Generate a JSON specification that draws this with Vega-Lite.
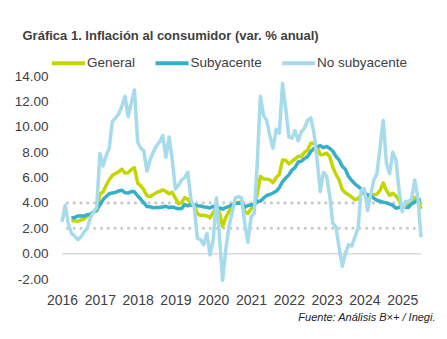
{
  "$schema": "https://vega.github.io/schema/vega-lite/v6.json",
  "width": 359,
  "height": 203,
  "autosize": {"type": "none"},
  "padding": {"left": 62, "top": 76, "right": 26, "bottom": 60},
  "background": "white",
  "config": {"view": {"stroke": null}, "font": "Liberation Sans"},
  "title": {
    "text": "Gráfica 1. Inflación al consumidor (var. % anual)",
    "anchor": "start",
    "frame": "group",
    "dx": -39.5,
    "dy": 10,
    "fontSize": 13,
    "fontWeight": "bold",
    "color": "#3f3f3f",
    "baseline": "alphabetic",
    "offset": 2
  },
  "layer": [
    {
      "data": {"values": [{"v": 0}]},
      "mark": {"type": "rule", "color": "#d9d9d9", "strokeWidth": 1.5},
      "encoding": {
        "y": {"field": "v", "type": "quantitative", "scale": {"domain": [-2, 14], "nice": false, "zero": false},
          "axis": {"values": [-2, 0, 2, 4, 6, 8, 10, 12, 14], "labelExpr": "datum.value < 0 ? '-' + format(-datum.value, '.2f') : format(datum.value, '.2f')", "labelFontSize": 13.5, "labelColor": "#404040", "ticks": false, "domain": false, "grid": false, "labelPadding": 14, "title": null}}
      }
    },
    {
      "data": {"values": [{"v": 2}, {"v": 4}]},
      "mark": {"type": "rule", "color": "#c9c9c9", "strokeWidth": 3.2, "strokeDash": [0, 6.8], "strokeCap": "round"},
      "encoding": {
        "y": {"field": "v", "type": "quantitative", "scale": {"domain": [-2, 14], "nice": false, "zero": false},
          "axis": {"values": [-2, 0, 2, 4, 6, 8, 10, 12, 14], "labelExpr": "datum.value < 0 ? '-' + format(-datum.value, '.2f') : format(datum.value, '.2f')", "labelFontSize": 13.5, "labelColor": "#404040", "ticks": false, "domain": false, "grid": false, "labelPadding": 14, "title": null}}
      }
    },
    {
      "data": {"values": [
        {"f":"2016-01-01","No subyacente":2.5},
        {"f":"2016-02-01","No subyacente":3.8},
        {"f":"2016-03-01","No subyacente":2.4},
        {"f":"2016-04-01","General":2.54,"Subyacente":2.80,"No subyacente":1.6},
        {"f":"2016-05-01","General":2.60,"Subyacente":2.84,"No subyacente":1.4},
        {"f":"2016-06-01","General":2.54,"Subyacente":2.97,"No subyacente":1.1},
        {"f":"2016-07-01","General":2.65,"Subyacente":2.97,"No subyacente":1.3},
        {"f":"2016-08-01","General":2.73,"Subyacente":2.96,"No subyacente":1.7},
        {"f":"2016-09-01","General":2.97,"Subyacente":3.07,"No subyacente":2.0},
        {"f":"2016-10-01","General":3.06,"Subyacente":3.10,"No subyacente":2.8},
        {"f":"2016-11-01","General":3.31,"Subyacente":3.29,"No subyacente":3.3},
        {"f":"2016-12-01","General":3.36,"Subyacente":3.44,"No subyacente":3.6},
        {"f":"2017-01-01","General":4.72,"Subyacente":3.85,"No subyacente":7.9},
        {"f":"2017-02-01","General":4.86,"Subyacente":4.26,"No subyacente":6.9},
        {"f":"2017-03-01","General":5.35,"Subyacente":4.48,"No subyacente":7.7},
        {"f":"2017-04-01","General":5.82,"Subyacente":4.72,"No subyacente":8.3},
        {"f":"2017-05-01","General":6.16,"Subyacente":4.78,"No subyacente":10.4},
        {"f":"2017-06-01","General":6.31,"Subyacente":4.83,"No subyacente":10.7},
        {"f":"2017-07-01","General":6.44,"Subyacente":4.94,"No subyacente":11.0},
        {"f":"2017-08-01","General":6.66,"Subyacente":5.00,"No subyacente":11.6},
        {"f":"2017-09-01","General":6.35,"Subyacente":4.80,"No subyacente":12.4},
        {"f":"2017-10-01","General":6.37,"Subyacente":4.77,"No subyacente":10.8},
        {"f":"2017-11-01","General":6.63,"Subyacente":4.90,"No subyacente":11.9},
        {"f":"2017-12-01","General":6.77,"Subyacente":4.87,"No subyacente":12.9},
        {"f":"2018-01-01","General":5.55,"Subyacente":4.56,"No subyacente":8.8},
        {"f":"2018-02-01","General":5.34,"Subyacente":4.27,"No subyacente":8.3},
        {"f":"2018-03-01","General":5.04,"Subyacente":4.02,"No subyacente":8.1},
        {"f":"2018-04-01","General":4.55,"Subyacente":3.71,"No subyacente":6.5},
        {"f":"2018-05-01","General":4.51,"Subyacente":3.69,"No subyacente":7.4},
        {"f":"2018-06-01","General":4.65,"Subyacente":3.62,"No subyacente":8.0},
        {"f":"2018-07-01","General":4.81,"Subyacente":3.63,"No subyacente":8.5},
        {"f":"2018-08-01","General":4.90,"Subyacente":3.63,"No subyacente":8.8},
        {"f":"2018-09-01","General":5.02,"Subyacente":3.67,"No subyacente":9.3},
        {"f":"2018-10-01","General":4.90,"Subyacente":3.73,"No subyacente":7.6},
        {"f":"2018-11-01","General":4.72,"Subyacente":3.63,"No subyacente":9.2},
        {"f":"2018-12-01","General":4.83,"Subyacente":3.68,"No subyacente":7.4},
        {"f":"2019-01-01","General":4.37,"Subyacente":3.60,"No subyacente":5.1},
        {"f":"2019-02-01","General":3.94,"Subyacente":3.54,"No subyacente":5.4},
        {"f":"2019-03-01","General":4.00,"Subyacente":3.55,"No subyacente":5.8},
        {"f":"2019-04-01","General":4.41,"Subyacente":3.87,"No subyacente":6.0},
        {"f":"2019-05-01","General":4.28,"Subyacente":3.77,"No subyacente":6.4},
        {"f":"2019-06-01","General":3.95,"Subyacente":3.85,"No subyacente":4.2},
        {"f":"2019-07-01","General":3.78,"Subyacente":3.82,"No subyacente":3.7},
        {"f":"2019-08-01","General":3.16,"Subyacente":3.78,"No subyacente":1.2},
        {"f":"2019-09-01","General":3.00,"Subyacente":3.75,"No subyacente":1.1},
        {"f":"2019-10-01","General":3.02,"Subyacente":3.68,"No subyacente":0.7},
        {"f":"2019-11-01","General":2.97,"Subyacente":3.65,"No subyacente":1.6},
        {"f":"2019-12-01","General":2.83,"Subyacente":3.59,"No subyacente":-0.1},
        {"f":"2020-01-01","General":3.24,"Subyacente":3.73,"No subyacente":1.1},
        {"f":"2020-02-01","General":3.70,"Subyacente":3.66,"No subyacente":4.4},
        {"f":"2020-03-01","General":3.25,"Subyacente":3.60,"No subyacente":1.4},
        {"f":"2020-04-01","General":2.15,"Subyacente":3.50,"No subyacente":-2.1},
        {"f":"2020-05-01","General":2.84,"Subyacente":3.64,"No subyacente":0.3},
        {"f":"2020-06-01","General":3.33,"Subyacente":3.71,"No subyacente":2.1},
        {"f":"2020-07-01","General":3.62,"Subyacente":3.85,"No subyacente":3.2},
        {"f":"2020-08-01","General":4.05,"Subyacente":3.97,"No subyacente":4.4},
        {"f":"2020-09-01","General":4.01,"Subyacente":3.99,"No subyacente":4.5},
        {"f":"2020-10-01","General":4.09,"Subyacente":3.98,"No subyacente":4.4},
        {"f":"2020-11-01","General":3.33,"Subyacente":3.66,"No subyacente":2.4},
        {"f":"2020-12-01","General":3.15,"Subyacente":3.80,"No subyacente":0.9},
        {"f":"2021-01-01","General":3.54,"Subyacente":3.84,"No subyacente":2.9},
        {"f":"2021-02-01","General":3.76,"Subyacente":3.87,"No subyacente":3.2},
        {"f":"2021-03-01","General":4.67,"Subyacente":4.12,"No subyacente":7.0},
        {"f":"2021-04-01","General":6.08,"Subyacente":4.13,"No subyacente":12.4},
        {"f":"2021-05-01","General":5.89,"Subyacente":4.37,"No subyacente":10.9},
        {"f":"2021-06-01","General":5.88,"Subyacente":4.58,"No subyacente":10.5},
        {"f":"2021-07-01","General":5.81,"Subyacente":4.66,"No subyacente":9.3},
        {"f":"2021-08-01","General":5.59,"Subyacente":4.78,"No subyacente":8.3},
        {"f":"2021-09-01","General":6.00,"Subyacente":4.92,"No subyacente":9.8},
        {"f":"2021-10-01","General":6.24,"Subyacente":5.19,"No subyacente":9.5},
        {"f":"2021-11-01","General":7.37,"Subyacente":5.67,"No subyacente":13.4},
        {"f":"2021-12-01","General":7.36,"Subyacente":5.94,"No subyacente":11.5},
        {"f":"2022-01-01","General":7.07,"Subyacente":6.21,"No subyacente":9.2},
        {"f":"2022-02-01","General":7.28,"Subyacente":6.59,"No subyacente":9.1},
        {"f":"2022-03-01","General":7.45,"Subyacente":6.78,"No subyacente":9.7},
        {"f":"2022-04-01","General":7.68,"Subyacente":7.22,"No subyacente":8.9},
        {"f":"2022-05-01","General":7.65,"Subyacente":7.28,"No subyacente":9.6},
        {"f":"2022-06-01","General":7.99,"Subyacente":7.49,"No subyacente":9.9},
        {"f":"2022-07-01","General":8.15,"Subyacente":7.65,"No subyacente":10.5},
        {"f":"2022-08-01","General":8.70,"Subyacente":8.05,"No subyacente":10.7},
        {"f":"2022-09-01","General":8.70,"Subyacente":8.28,"No subyacente":9.5},
        {"f":"2022-10-01","General":8.41,"Subyacente":8.42,"No subyacente":7.4},
        {"f":"2022-11-01","General":7.80,"Subyacente":8.51,"No subyacente":4.9},
        {"f":"2022-12-01","General":7.82,"Subyacente":8.35,"No subyacente":6.4},
        {"f":"2023-01-01","General":7.91,"Subyacente":8.45,"No subyacente":6.1},
        {"f":"2023-02-01","General":7.62,"Subyacente":8.29,"No subyacente":4.5},
        {"f":"2023-03-01","General":6.85,"Subyacente":8.09,"No subyacente":2.4},
        {"f":"2023-04-01","General":6.25,"Subyacente":7.67,"No subyacente":2.1},
        {"f":"2023-05-01","General":5.84,"Subyacente":7.39,"No subyacente":0.5},
        {"f":"2023-06-01","General":5.06,"Subyacente":6.89,"No subyacente":-1.0},
        {"f":"2023-07-01","General":4.79,"Subyacente":6.64,"No subyacente":0.0},
        {"f":"2023-08-01","General":4.64,"Subyacente":6.08,"No subyacente":0.7},
        {"f":"2023-09-01","General":4.45,"Subyacente":5.76,"No subyacente":0.6},
        {"f":"2023-10-01","General":4.26,"Subyacente":5.50,"No subyacente":1.3},
        {"f":"2023-11-01","General":4.32,"Subyacente":5.30,"No subyacente":2.0},
        {"f":"2023-12-01","General":4.66,"Subyacente":5.09,"No subyacente":5.0},
        {"f":"2024-01-01","General":4.88,"Subyacente":4.76,"No subyacente":5.1},
        {"f":"2024-02-01","General":4.40,"Subyacente":4.64,"No subyacente":3.4},
        {"f":"2024-03-01","General":4.42,"Subyacente":4.55,"No subyacente":4.6},
        {"f":"2024-04-01","General":4.65,"Subyacente":4.37,"No subyacente":5.8},
        {"f":"2024-05-01","General":4.69,"Subyacente":4.21,"No subyacente":6.3},
        {"f":"2024-06-01","General":4.98,"Subyacente":4.13,"No subyacente":8.4},
        {"f":"2024-07-01","General":5.57,"Subyacente":4.05,"No subyacente":10.5},
        {"f":"2024-08-01","General":4.99,"Subyacente":4.00,"No subyacente":7.1},
        {"f":"2024-09-01","General":4.58,"Subyacente":3.91,"No subyacente":6.3},
        {"f":"2024-10-01","General":4.76,"Subyacente":3.80,"No subyacente":8.0},
        {"f":"2024-11-01","General":4.55,"Subyacente":3.58,"No subyacente":7.4},
        {"f":"2024-12-01","General":4.21,"Subyacente":3.65,"No subyacente":5.0},
        {"f":"2025-01-01","General":3.59,"Subyacente":3.66,"No subyacente":3.3},
        {"f":"2025-02-01","General":3.77,"Subyacente":3.65,"No subyacente":4.1},
        {"f":"2025-03-01","General":3.80,"Subyacente":3.64,"No subyacente":4.1},
        {"f":"2025-04-01","General":3.93,"Subyacente":3.93,"No subyacente":4.3},
        {"f":"2025-05-01","General":4.42,"Subyacente":4.06,"No subyacente":5.8},
        {"f":"2025-06-01","General":4.32,"Subyacente":4.24,"No subyacente":4.4},
        {"f":"2025-07-01","General":3.51,"Subyacente":4.23,"No subyacente":1.3}
      ]},
      "transform": [
        {"fold": ["General", "Subyacente", "No subyacente"], "as": ["serie", "v"]},
        {"filter": "isValid(datum.v)"}
      ],
      "encoding": {
        "x": {"field": "f", "type": "temporal",
          "scale": {"type": "utc", "nice": false},
          "axis": {"format": "%Y",
            "values": [
              {"year": 2016, "month": 1, "date": 1, "utc": true},
              {"year": 2017, "month": 1, "date": 1, "utc": true},
              {"year": 2018, "month": 1, "date": 1, "utc": true},
              {"year": 2019, "month": 1, "date": 1, "utc": true},
              {"year": 2020, "month": 1, "date": 1, "utc": true},
              {"year": 2021, "month": 1, "date": 1, "utc": true},
              {"year": 2022, "month": 1, "date": 1, "utc": true},
              {"year": 2023, "month": 1, "date": 1, "utc": true},
              {"year": 2024, "month": 1, "date": 1, "utc": true},
              {"year": 2025, "month": 1, "date": 1, "utc": true}
            ],
            "labelOverlap": false, "labelFlush": false, "labelBound": false,
            "labelFontSize": 14, "labelColor": "#404040", "ticks": false, "domain": false, "grid": false, "labelPadding": 14,
            "title": "Fuente: Análisis B×+ /  Inegi.", "titleFontStyle": "italic", "titleFontWeight": "normal", "titleFontSize": 11, "titleColor": "#222222", "titleX": 373, "titleY": 41, "titleAlign": "right", "titleBaseline": "alphabetic"}},
        "y": {"field": "v", "type": "quantitative", "scale": {"domain": [-2, 14], "nice": false, "zero": false},
          "axis": {"values": [-2, 0, 2, 4, 6, 8, 10, 12, 14], "labelExpr": "datum.value < 0 ? '-' + format(-datum.value, '.2f') : format(datum.value, '.2f')", "labelFontSize": 13.5, "labelColor": "#404040", "ticks": false, "domain": false, "grid": false, "labelPadding": 14, "title": null}},
        "color": {"field": "serie", "type": "nominal",
          "scale": {"domain": ["General", "Subyacente", "No subyacente"], "range": ["#c4d600", "#38afca", "#a6dbeb"]},
          "legend": {"orient": "none", "legendX": -12, "legendY": -31.5, "direction": "horizontal", "title": null, "symbolType": "stroke", "symbolSize": 1089, "symbolStrokeWidth": 4, "labelFontSize": 13.5, "labelColor": "#404040", "columnPadding": 11.5, "labelOffset": 0}}
      },
      "layer": [
        {"transform": [{"filter": "datum.serie === 'General'"}], "mark": {"type": "line", "strokeWidth": 3.5, "strokeJoin": "round"}},
        {"transform": [{"filter": "datum.serie === 'Subyacente'"}], "mark": {"type": "line", "strokeWidth": 3.5, "strokeJoin": "round"}},
        {"transform": [{"filter": "datum.serie === 'No subyacente'"}], "mark": {"type": "line", "strokeWidth": 3.5, "strokeJoin": "round"}}
      ]
    }
  ]
}
